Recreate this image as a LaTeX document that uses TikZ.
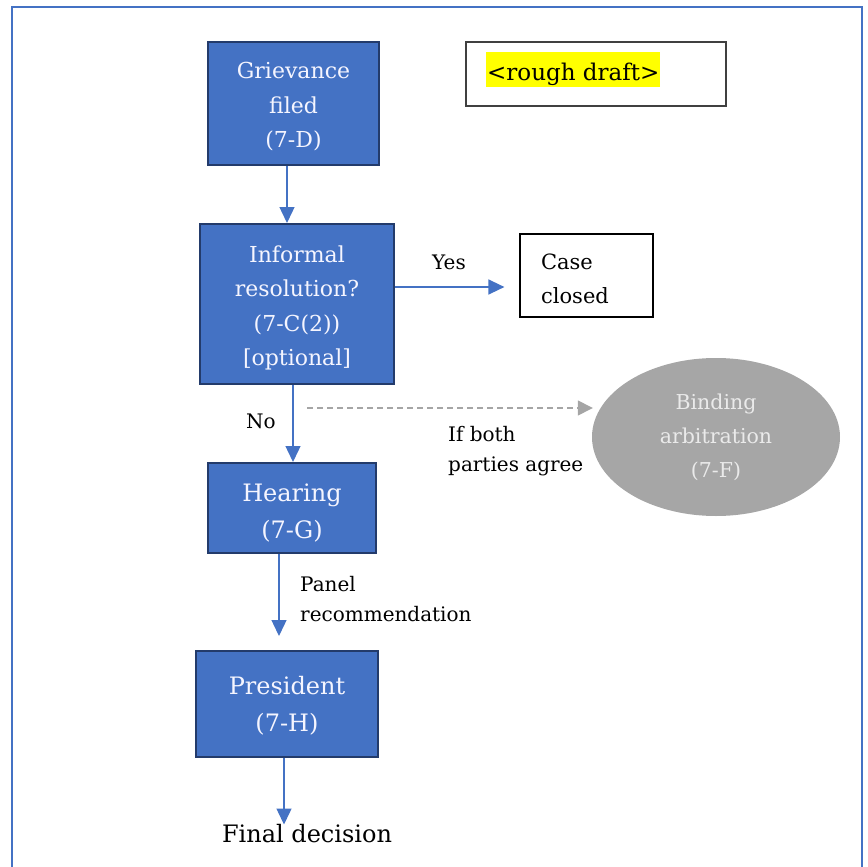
\documentclass[tikz,border=0pt]{standalone}
\usepackage{fontspec}
\setmainfont{DejaVu Serif}
\usetikzlibrary{arrows.meta,shapes.geometric}
\definecolor{boxblue}{HTML}{4472C4}
\definecolor{boxedge}{HTML}{233B6B}
\definecolor{arrblue}{HTML}{4472C4}
\definecolor{arrgray}{HTML}{A5A5A5}
\definecolor{ellgray}{HTML}{A6A6A6}
\definecolor{elltext}{HTML}{EAEAEA}
\definecolor{hlyellow}{HTML}{FFFF00}
\newcommand\liftc[2]{\raisebox{#1}[\height][\depth]{\begin{tabular}{@{}c@{}}#2\end{tabular}}}
\newcommand\liftl[2]{\raisebox{#1}[\height][\depth]{\begin{tabular}{@{}l@{}}#2\end{tabular}}}
\begin{document}
\begin{tikzpicture}[x=1pt,y=-1pt,
  bluebox/.style={draw=boxedge,line width=2pt,fill=boxblue,text=white!96!blue,inner sep=0pt,font=\fontsize{22}{34.5}\selectfont},
  bigbox/.style={bluebox,font=\fontsize{24}{37}\selectfont},
  lbl/.style={inner sep=0pt,font=\fontsize{20}{30}\selectfont,align=left},
  arr/.style={draw=arrblue,line width=1.4pt,-{Triangle[length=16pt,width=15pt]}},
  darr/.style={draw=arrgray,line width=1.4pt,dash pattern=on 6pt off 4pt,-{Triangle[length=15pt,width=15pt]}}
]
\useasboundingbox (0,0) rectangle (868,867);
\draw[boxblue,line width=2pt] (12,880) -- (12,7) -- (862,7) -- (862,880);

% nodes
\node[bluebox,minimum width=171pt,minimum height=123pt] (g) at (293.5,103.5) {\liftc{-3pt}{Grievance\\filed\\(7-D)}};
\node[bluebox,minimum width=194pt,minimum height=160pt] (i) at (297,304) {\liftc{-3pt}{Informal\\resolution?\\(7-C(2))\\{}[optional]}};
\node[draw=black,line width=1.2pt,minimum width=133pt,minimum height=83pt,inner xsep=21pt,inner ysep=0pt,font=\fontsize{21}{34}\selectfont] (cc) at (586.5,275.5) {\liftl{-4pt}{Case\hspace*{39pt}\\closed}};
\node[draw=black!75,line width=1.2pt,minimum width=260pt,minimum height=64pt] (rd) at (596,74) {};
\node[fill=hlyellow,inner xsep=1pt,inner ysep=0pt,text height=28pt,text depth=7pt,font=\fontsize{23}{30}\selectfont,anchor=north west] (hl) at (486,52) {<rough draft>};
\node[ellipse,fill=ellgray,minimum width=248pt,minimum height=158pt,inner sep=0pt,text=elltext,align=center,font=\fontsize{20.5}{34}\selectfont] (e) at (716,437) {Binding\\arbitration\\(7-F)};
\node[bigbox,minimum width=168pt,minimum height=90pt] (h) at (292,508) {\liftc{-5pt}{Hearing\\(7-G)}};
\node[bigbox,minimum width=182pt,minimum height=106pt] (p) at (287,704) {\liftc{-2pt}{President\\(7-H)}};
\node[inner sep=0pt,font=\fontsize{24}{30}\selectfont] (fd) at (307,834) {Final decision};

% labels
\node[lbl] (yes) at (449,262) {Yes};
\node[lbl] (no) at (261,421) {No};
\node[lbl,anchor=west] (both) at (448,451) {If both\\parties agree};
\node[lbl,anchor=west] (panel) at (300,599) {Panel\\recommendation};

% connectors
\draw[arr] ([xshift=-6.5pt]g.south) -- ([xshift=-6.5pt]g.south |- i.north);
\draw[arr,shorten >=15pt] ([yshift=17pt]i.east) -- ([yshift=17pt]i.east -| cc.west);
\draw[arr] ([xshift=-4pt]i.south) -- ([xshift=-4pt]i.south |- h.north);
\draw[darr,shorten >=9pt] ([xshift=10pt,yshift=-23pt]i.south) -- ([xshift=10pt,yshift=-23pt]i.south -| e.west);
\draw[arr,shorten >=14pt] ([xshift=-13pt]h.south) -- ([xshift=-13pt]h.south |- p.north);
\draw[arr] ([xshift=-3pt]p.south) -- ([xshift=-3pt]p.south |- fd.north);
\end{tikzpicture}
\end{document}
